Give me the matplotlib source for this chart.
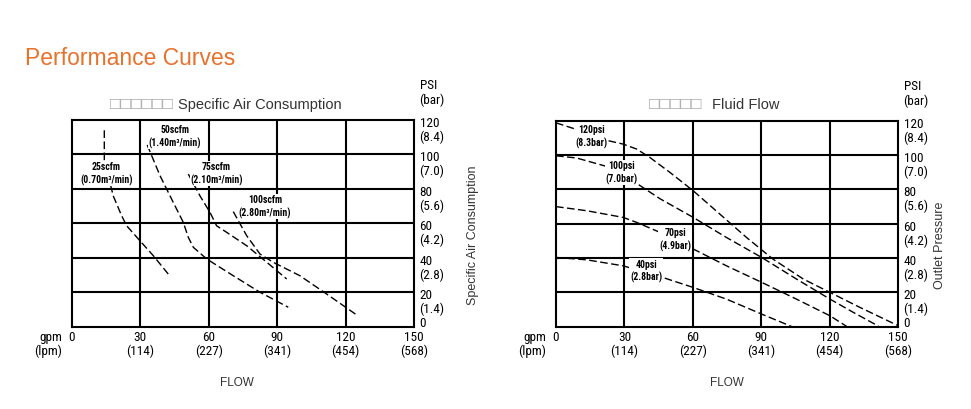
import matplotlib
matplotlib.use("Agg")
import matplotlib.pyplot as plt

# axis ticks
x_ticks = [0, 30, 60, 90, 120, 150]
x_lpm = ["", "(114)", "(227)", "(341)", "(454)", "(568)"]
y_ticks = [0, 20, 40, 60, 80, 100, 120]
y_bar = ["", "(1.4)", "(2.8)", "(4.2)", "(5.6)", "(7.0)", "(8.4)"]

# Specific Air Consumption curves (gpm, psi)
air_labels = ["25scfm\n(0.70m³/min)", "50scfm\n(1.40m³/min)",
              "75scfm\n(2.10m³/min)", "100scfm\n(2.80m³/min)"]
air_x = [
    [14.3, 14.3, 17.1, 18.2, 21.9, 24.1, 29.9, 35.8, 42.3],
    [33.1, 38.7, 44.5, 48.9, 51.1, 53.3, 59.2, 70.8, 82.5, 94.9],
    [51.1, 56.2, 60.6, 63.5, 67.9, 76.7, 85.5, 94.2],
    [70.8, 76.7, 82.5, 88.3, 100.0, 111.7, 124.9],
]
air_y = [
    [114, 97, 82, 76, 64.4, 58.6, 49.9, 41.2, 30.6],
    [105.5, 87.7, 72.2, 60.6, 51.9, 46.1, 39.3, 29.6, 20, 11.3],
    [88.6, 76, 66.4, 58.6, 54.8, 47, 37.4, 27.7],
    [66.8, 52.8, 42.2, 37.4, 29.6, 19, 6.8],
]
air_lab_pos = [(15.3, 89), (45.3, 110.5), (63.5, 89), (84.7, 70)]

# Fluid Flow curves (gpm, psi)
flow_labels = ["120psi\n(8.3bar)", "100psi\n(7.0bar)", "70psi\n(4.9bar)", "40psi\n(2.8bar)"]
flow_x = [
    [0, 10.5, 22.9, 29.5, 35.4, 41.2, 50, 60.2, 71.9, 83.6, 95.3, 108.5, 120.2, 133.3, 150],
    [0, 9.1, 22.2, 36, 45.6, 60.2, 74.8, 90.2, 105.5, 120.2, 130.4, 141.4],
    [0, 13.5, 29.5, 35.4, 45.6, 60.2, 74.8, 90.2, 105.5, 120.2, 127.5],
    [0, 13.5, 29.5, 46.9, 60.2, 74.8, 90.2, 103.3],
]
flow_y = [
    [118.8, 114.3, 108.4, 106.4, 103.5, 98.6, 89.9, 79.2, 65.6, 52, 39.3, 27.8, 20, 11.3, 0.7],
    [99.6, 98.3, 93.4, 83, 74.6, 63.7, 52, 40.4, 27.8, 16.1, 8.4, 0.4],
    [70, 67.6, 63.7, 60.8, 55, 45.3, 35.5, 25.9, 16.1, 6.4, 0.2],
    [40.4, 39, 35.5, 28.7, 22.9, 16.1, 7.4, 0.2],
]
flow_lab_pos = [(15.6, 111), (28.8, 90.1), (52.2, 51.3), (39.5, 32.8)]

narrow = ["Liberation Sans Narrow", "DejaVu Sans Condensed", "Roboto Condensed",
          "Liberation Sans", "DejaVu Sans"]
plain = ["Liberation Sans", "DejaVu Sans"]
tick_fs = 9.5

fig = plt.figure(figsize=(9.71, 4.10), dpi=100)
fig.text(0.026, 0.858, "Performance Curves", color="#e8722c", fontsize=16.5,
         family=plain, va="center")


def draw_chart(ax, xs, ys, labels, lab_pos):
    ax.set_xlim(0, 150)
    ax.set_ylim(0, 120)
    ax.set_xticks([])
    ax.set_yticks([])
    for s in ax.spines.values():
        s.set_linewidth(1.5)
    for v in x_ticks[1:-1]:
        ax.axvline(v, color="black", lw=1.5, zorder=1)
    for v in y_ticks[1:-1]:
        ax.axhline(v, color="black", lw=1.5, zorder=1)
    for cx, cy in zip(xs, ys):
        ax.plot(cx, cy, color="black", lw=1.0, dashes=(5.5, 2.5), zorder=2)
    for lab, (lx, ly) in zip(labels, lab_pos):
        ax.text(lx, ly, lab, ha="center", va="center", fontsize=7, family=narrow,
                fontweight="bold", linespacing=1.3, zorder=3,
                bbox=dict(facecolor="white", edgecolor="none", pad=0.5))
    # bottom tick labels
    for v, lp in zip(x_ticks, x_lpm):
        ax.annotate(f"{v}\n{lp}" if lp else f"{v}", (v, 0), xytext=(0, -2.5),
                    textcoords="offset points", ha="center", va="top",
                    fontsize=tick_fs, family=narrow, linespacing=1.05,
                    annotation_clip=False)
    ax.annotate("gpm\n(lpm)", (0, 0), xytext=(-7, -2.5), textcoords="offset points",
                ha="right", va="top", fontsize=tick_fs, family=narrow, linespacing=1.05,
                annotation_clip=False)
    # right tick labels
    for v, bl in zip(y_ticks, y_bar):
        if v == 0:
            ax.annotate("0", (150, 0), xytext=(4, 3), textcoords="offset points",
                        ha="left", va="center", fontsize=tick_fs, family=narrow,
                        annotation_clip=False)
            continue
        ax.annotate(f"{v}\n{bl}", (150, v), xytext=(4, 3), textcoords="offset points",
                    ha="left", va="top", fontsize=tick_fs, family=narrow, linespacing=1.05,
                    annotation_clip=False)
    ax.annotate("PSI\n(bar)", (150, 120), xytext=(4, 10), textcoords="offset points",
                ha="left", va="bottom", fontsize=tick_fs, family=narrow, linespacing=1.15,
                annotation_clip=False)


ax1 = fig.add_axes([0.0738, 0.2007, 0.3526, 0.5042])
draw_chart(ax1, air_x, air_y, air_labels, air_lab_pos)
ax2 = fig.add_axes([0.5726, 0.2005, 0.3522, 0.5025])
draw_chart(ax2, flow_x, flow_y, flow_labels, flow_lab_pos)

# titles and axis names
fig.text(0.178, 0.744, "□□□□□□", ha="right", va="center",
         fontsize=12.5, color="#aaaaaa", family=plain)
fig.text(0.183, 0.744, "Specific Air Consumption", ha="left", va="center",
         fontsize=10.5, color="#333333", family=plain)
fig.text(0.722, 0.744, "□□□□□", ha="right", va="center",
         fontsize=12.5, color="#aaaaaa", family=plain)
fig.text(0.733, 0.744, "Fluid Flow", ha="left", va="center",
         fontsize=10.5, color="#333333", family=plain)
fig.text(0.244, 0.066, "FLOW", ha="center", va="center", fontsize=8.5,
         color="#333333", family=plain)
fig.text(0.749, 0.066, "FLOW", ha="center", va="center", fontsize=8.5,
         color="#333333", family=plain)
fig.text(0.487, 0.427, "Specific Air Consumption", rotation=90, ha="center",
         va="center", fontsize=9, color="#333333", family=plain)
fig.text(0.968, 0.402, "Outlet Pressure", rotation=90, ha="center",
         va="center", fontsize=9, color="#333333", family=plain)

fig.savefig("out.png", dpi=100)
